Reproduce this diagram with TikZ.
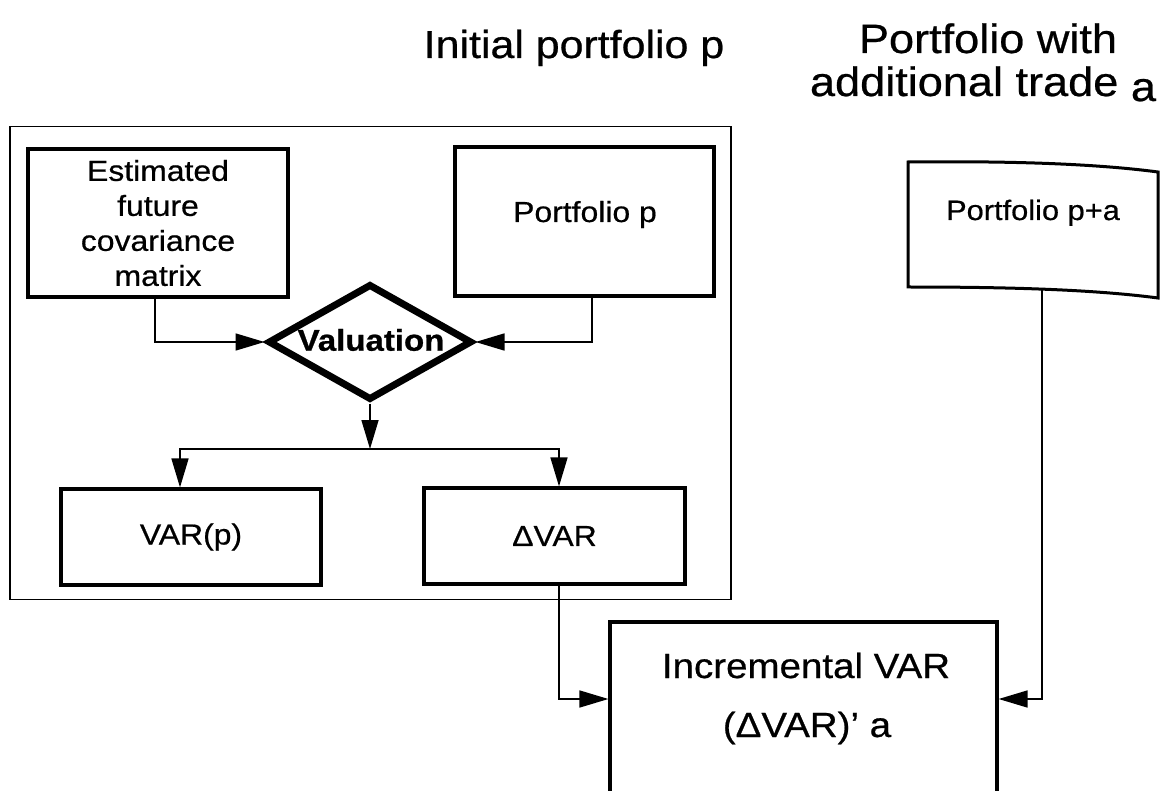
\documentclass[tikz,border=0pt]{standalone}
\usepackage{fontspec}
\setmainfont{Liberation Sans}[FakeStretch=1.1,UprightFeatures={FakeBold=0.6},BoldFeatures={FakeBold=0.8}]
\usetikzlibrary{arrows.meta,shapes.geometric}
\begin{document}
\begin{tikzpicture}[x=1pt,y=-1pt,
  box/.style={draw,line width=3.2pt,rectangle,inner sep=0pt,align=center,font=\fontsize{29}{35}\selectfont},
  conn/.style={line width=1.6pt},
  arr/.style={conn,-{Triangle[length=29pt,width=17pt]}},
  txt/.style={inner sep=0pt,anchor=base,font=\fontsize{29}{35}\selectfont},
  title/.style={inner sep=0pt,anchor=base,font=\fontsize{39}{46}\selectfont},
]
\useasboundingbox (0,0) rectangle (1172,791);
\clip (0,0) rectangle (1172,791);
\fill[white] (0,0) rectangle (1172,791);

% titles
\node[title] (t1) at (574,58) {Initial portfolio p};
\node[title,font=\fontsize{41}{46}\selectfont] (t2a) at (988,53) {Portfolio with};
\node[title,font=\fontsize{41}{46}\selectfont] (t2b) at (983,96) {additional trade \raisebox{-5pt}{a}};

% outer frame
\node[draw,line width=1.6pt,minimum width=721pt,minimum height=473pt,inner sep=0pt] (outer) at (370.5,363) {};

% boxes
\node[box,minimum width=260pt,minimum height=148pt] (est) at (158,223) {Estimated\\future\\covariance\\matrix};
\node[box,minimum width=259pt,minimum height=149pt] (pp) at (584.5,221.5) {};
\node[txt] (pptxt) at (585,222) {Portfolio p};
\node[box,minimum width=260pt,minimum height=96pt] (varp) at (191,537) {VAR(p)};
\node[box,minimum width=261pt,minimum height=96pt] (dvar) at (554.5,536) {ΔVAR};
\node[draw,diamond,line width=7pt,minimum width=204pt,minimum height=116pt,inner sep=0pt] (val) at (370,342) {};
\node[inner sep=0pt,font=\bfseries\fontsize{30}{34}\selectfont] (valtxt) at (371,340) {Valuation};

% incremental box
\node[box,minimum width=387pt,minimum height=196pt] (inc) at (803.5,720) {};
\node[txt,font=\fontsize{35}{40}\selectfont] (inc1) at (806,678) {Incremental VAR};
\node[txt,font=\fontsize{35}{40}\selectfont] (inc2) at (807,737) {(ΔVAR)’ a};

% portfolio p+a card
\draw[line width=3pt,line join=miter]
  (908,162) .. controls (1000,161) and (1090,163) .. (1158,172)
  -- (1158,298) .. controls (1090,289) and (1000,287) .. (908,287) -- cycle;
\node[txt,font=\fontsize{28}{34}\selectfont] (patxt) at (1033,220) {Portfolio p+a};
\coordinate (pabot) at (1042,289);

% connectors
\draw[arr] ([xshift=-3pt]est.south) |- (val.west);
\draw[arr] ([xshift=7.5pt]pp.south) |- (val.east);
\coordinate (split) at (370,449);
\draw[arr] (val.south) -- (split);
\draw[arr] (split) -| ([xshift=-11pt]varp.north);
\draw[arr] (split) -| ([xshift=4.5pt]dvar.north);
\draw[arr] ([xshift=4.5pt]dvar.south) |- ([yshift=21pt]inc.west);
\draw[arr] (pabot) |- ([yshift=21pt]inc.east);
\end{tikzpicture}
\end{document}
